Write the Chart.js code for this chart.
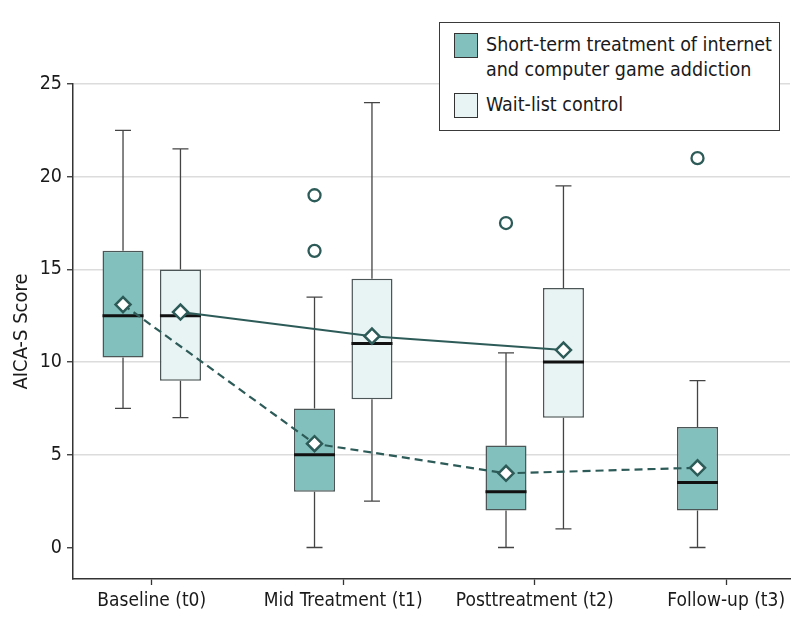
<!DOCTYPE html>
<html>
<head>
<meta charset="utf-8">
<script src="https://cdn.jsdelivr.net/npm/chart.js@4.4.1/dist/chart.umd.min.js"></script>
<style>
  html, body { margin: 0; padding: 0; background: #fff; }
  #wrap { position: relative; width: 794px; height: 629px; }
  #legend {
    position: absolute; left: 439px; top: 22px; width: 339px; height: 107px;
    border: 1.5px solid #3a3a3a; background: #fff;
    font-family: "Liberation Sans Narrow", "DejaVu Sans Condensed", "Roboto", sans-serif;
    font-size: 19.5px; color: #1a1a1a; line-height: 25px;
  }
  .item { position: absolute; left: 14px; }
  .sw { position: absolute; left: 0; top: 0; width: 22px; height: 23px; border: 1.2px solid #333; }
  .txt { position: absolute; left: 32px; top: -1px; white-space: nowrap; }
</style>
</head>
<body>
<div id="wrap">
  <canvas id="chart" width="794" height="629"></canvas>
  <div id="legend">
    <div class="item" style="top:10px"><div class="sw" style="background:#82c0bd"></div><div class="txt">Short-term treatment of internet<br>and computer game addiction</div></div>
    <div class="item" style="top:70px"><div class="sw" style="background:#e8f3f4"></div><div class="txt">Wait-list control</div></div>
  </div>
</div>
<script>
const categories = ['Baseline (t0)', 'Mid Treatment (t1)', 'Posttreatment (t2)', 'Follow-up (t3)'];
const yTicks = [0, 5, 10, 15, 20, 25];

// short-term treatment group
const treatLow = [7.5, 0, 0, 0];
const treatQ1 = [10.25, 3, 2, 2];
const treatMedian = [12.5, 5, 3, 3.5];
const treatQ3 = [16, 7.5, 5.5, 6.5];
const treatHigh = [22.5, 13.5, 10.5, 9];
const treatMean = [13.1, 5.6, 4.0, 4.3];
const treatOutliers = [[], [19, 16], [17.5], [21]];

// wait-list control (no follow-up)
const ctrlLow = [7, 2.5, 1];
const ctrlQ1 = [9, 8, 7];
const ctrlMedian = [12.5, 11, 10];
const ctrlQ3 = [15, 14.5, 14];
const ctrlHigh = [21.5, 24, 19.5];
const ctrlMean = [12.7, 11.4, 10.65];

const FONT = '"Liberation Sans Narrow", "DejaVu Sans Condensed", "Roboto", sans-serif';
const CAT_PCT = 0.6;
const OFFSET = CAT_PCT / 4;
const DARK = '#2d5b58';

const boxData = (q1, q3) => q1.map((v, i) => ({ x: i, y: [v, q3[i]] }));
const meanData = (m, sign) => m.map((v, i) => ({ x: i + sign * OFFSET, y: v }));
const outlierData = treatOutliers.flatMap((list, i) => list.map(v => ({ x: i - OFFSET, y: v })));

const whiskers = {
  0: { low: treatLow, high: treatHigh, median: treatMedian },
  1: { low: ctrlLow, high: ctrlHigh, median: ctrlMedian }
};

const boxPlugin = {
  id: 'boxWhiskers',
  afterDatasetDraw(chart, args) {
    const w = whiskers[args.index];
    if (!w) return;
    const ctx = chart.ctx;
    const y = chart.scales.y;
    const meta = chart.getDatasetMeta(args.index);
    meta.data.forEach((bar, i) => {
      const { x, width } = bar.getProps(['x', 'width'], true);
      const [q1, q3] = chart.data.datasets[args.index].data[i].y;
      ctx.save();
      ctx.strokeStyle = '#444';
      ctx.lineWidth = 1.3;
      ctx.beginPath();
      ctx.moveTo(x, y.getPixelForValue(q3)); ctx.lineTo(x, y.getPixelForValue(w.high[i]));
      ctx.moveTo(x - 8, y.getPixelForValue(w.high[i])); ctx.lineTo(x + 8, y.getPixelForValue(w.high[i]));
      ctx.moveTo(x, y.getPixelForValue(q1)); ctx.lineTo(x, y.getPixelForValue(w.low[i]));
      ctx.moveTo(x - 8, y.getPixelForValue(w.low[i])); ctx.lineTo(x + 8, y.getPixelForValue(w.low[i]));
      ctx.stroke();
      ctx.strokeStyle = '#111';
      ctx.lineWidth = 3;
      ctx.beginPath();
      ctx.moveTo(x - width / 2, y.getPixelForValue(w.median[i]));
      ctx.lineTo(x + width / 2, y.getPixelForValue(w.median[i]));
      ctx.stroke();
      ctx.restore();
    });
  }
};

new Chart(document.getElementById('chart'), {
  type: 'bar',
  data: {
    datasets: [
      { label: 'treatment', data: boxData(treatQ1, treatQ3), backgroundColor: '#82c0bd', borderColor: '#4d5656',
        borderWidth: 1.5, borderSkipped: false, categoryPercentage: CAT_PCT, barPercentage: 0.714, order: 3 },
      { label: 'control', data: boxData(ctrlQ1, ctrlQ3), backgroundColor: '#e8f3f4', borderColor: '#4d5656',
        borderWidth: 1.5, borderSkipped: false, categoryPercentage: CAT_PCT, barPercentage: 0.714, order: 3 },
      { type: 'line', label: 'treatment mean', data: meanData(treatMean, -1), borderColor: DARK, borderWidth: 2.2,
        borderDash: [8, 5], pointStyle: 'rectRot', pointRadius: 7.5, pointBorderWidth: 2.5,
        pointBackgroundColor: '#fff', pointBorderColor: DARK, order: 1 },
      { type: 'line', label: 'control mean', data: meanData(ctrlMean, 1), borderColor: DARK, borderWidth: 2,
        pointStyle: 'rectRot', pointRadius: 7.5, pointBorderWidth: 2.5,
        pointBackgroundColor: '#fff', pointBorderColor: DARK, order: 1 },
      { type: 'scatter', label: 'outliers', data: outlierData, pointStyle: 'circle', pointRadius: 6,
        pointBorderWidth: 2.3, pointBackgroundColor: '#fff', pointBorderColor: DARK, order: 0 }
    ]
  },
  options: {
    responsive: false,
    animation: false,
    layout: { autoPadding: false, padding: { top: 84, right: 4, left: 0, bottom: 0 } },
    plugins: { legend: { display: false }, tooltip: { enabled: false } },
    scales: {
      x: {
        type: 'linear', min: -0.4112, max: 3.333, offset: false,
        afterBuildTicks: s => { s.ticks = categories.map((c, i) => ({ value: i })); },
        afterFit: s => { s.height = 50; s.paddingRight = 0; },
        grid: { offset: false, drawOnChartArea: false, tickLength: 6, tickColor: '#333', tickWidth: 1.3 },
        border: { color: '#333', width: 1.5 },
        ticks: { callback: v => categories[v], color: '#1a1a1a', padding: 5, maxRotation: 0, autoSkip: false,
          font: { family: FONT, size: 19 } }
      },
      y: {
        min: -1.7, max: 25,
        afterBuildTicks: s => { s.ticks = yTicks.map(v => ({ value: v })); },
        afterFit: s => { s.width = 73; },
        grid: { color: c => c.tick && c.tick.value === 0 ? 'rgba(0,0,0,0)' : '#dcdcdc', lineWidth: 1.5,
          tickLength: 6, tickColor: '#333', tickWidth: 1.3 },
        border: { color: '#333', width: 1.5 },
        ticks: { color: '#1a1a1a', padding: 5, font: { family: FONT, size: 19.5 } },
        title: { display: true, text: 'AICA-S Score', color: '#1a1a1a', padding: { top: 10 },
          font: { family: FONT, size: 20 } }
      }
    }
  },
  plugins: [boxPlugin]
});
</script>
</body>
</html>
